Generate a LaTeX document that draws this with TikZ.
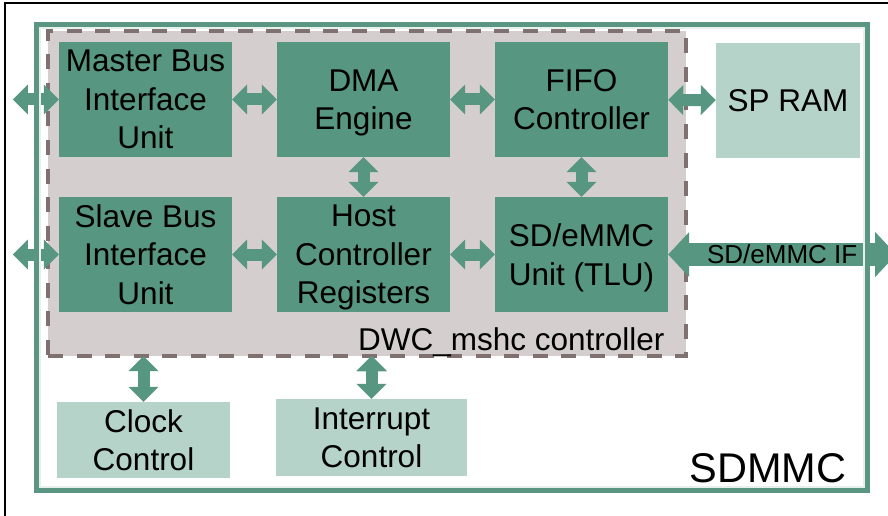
\documentclass[tikz,border=0pt]{standalone}
\usepackage{fontspec}
\setmainfont{Liberation Sans}
\usetikzlibrary{arrows.meta,positioning}

\definecolor{unitgreen}{HTML}{579680}
\definecolor{memgreen}{HTML}{B6D3CA}
\definecolor{ctrlgray}{HTML}{D5CECE}
\definecolor{dashgray}{HTML}{7E7170}
\definecolor{edgegreen}{HTML}{5A9682}
\definecolor{edgelight}{HTML}{E8F0ED}

\tikzset{
  unit/.style={fill=unitgreen, minimum width=173pt, minimum height=115pt,
    align=center, text depth=0pt, inner sep=0pt},
  mem/.style={fill=memgreen, align=center, text depth=0pt, inner sep=0pt},
  dbl/.style={unitgreen, draw, line width=12pt,
    {Triangle[width=30pt,length=15pt,line width=0pt]}-{Triangle[width=30pt,length=15pt,line width=0pt]}},
  busif/.style={unitgreen, draw, line width=23pt,
    {Triangle[width=45pt,length=21pt,line width=0pt]}-{Triangle[width=45pt,length=21pt,line width=0pt]}},
}

\begin{document}
\begin{tikzpicture}[x=1pt,y=-1pt,node distance=155pt and 218pt,on grid,
    font=\fontsize{31.5}{38.5}\selectfont]
   \useasboundingbox (0,0) rectangle (888,516);
   \draw[line width=1.5pt] (5,516) |- (888,3);

   \node[fill=ctrlgray, draw=dashgray, line width=3.5pt, outer sep=0pt,
     dash pattern=on 15pt off 13.5pt, minimum width=638pt,
     minimum height=325pt] (ctrl) at (367,193.5) {};
   \node[anchor=base east] (ctrlname) at ([xshift=-18pt,yshift=6pt]ctrl.south east)
     {DWC\_mshc controller};

   \node[unit] (master) at (145.5,99.5) {Master Bus\\Interface\\Unit};
   \node[unit] (dma) [right=of master] {DMA\\Engine};
   \node[unit] (fifo) [right=of dma] {FIFO\\Controller};
   \node[unit] (slave) [below=of master] {Slave Bus\\Interface\\Unit};
   \node[unit] (host) [right=of slave] {Host\\Controller\\Registers};
   \node[unit] (sd) [right=of host] {SD/eMMC\\Unit (TLU)};

   \node[mem, minimum width=144pt, minimum height=115pt] (spram) at (788,100.5) {SP RAM};
   \node[mem, minimum width=173pt, minimum height=76pt] (clock) at (143.5,440) {Clock\\Control};
   \node[mem, minimum width=191pt, minimum height=77pt] (irq) at (371.5,437.5) {Interrupt\\Control};

   \coordinate (mbus) at ([xshift=-46pt]master.west);
   \coordinate (sbus) at ([xshift=-46pt]slave.west);
   \coordinate (sdif) at ([xshift=228pt]sd.east);

   \path[dbl] (mbus) edge (master)
     (master) edge (dma)
     (dma) edge (fifo)
     (fifo) edge (spram)
     (dma) edge (host)
     (fifo) edge (sd)
     (sbus) edge (slave)
     (slave) edge (host)
     (host) edge (sd)
     (clock.north |- ctrl.south) edge (clock)
     (irq.north |- ctrl.south) edge (irq);
   \path[busif] (sd) edge node[black, font=\fontsize{26}{30}\selectfont] {SD/eMMC IF} (sdif);

   \draw[edgegreen, line width=5pt] (36,25) rectangle (867.5,490);
   \draw[edgelight, line width=2pt] (39.5,28.5) rectangle (864,486.5);

   \node[anchor=base east, font=\fontsize{41.5}{49}\selectfont] (sdmmc) at (850,482) {SDMMC};
\end{tikzpicture}
\end{document}
